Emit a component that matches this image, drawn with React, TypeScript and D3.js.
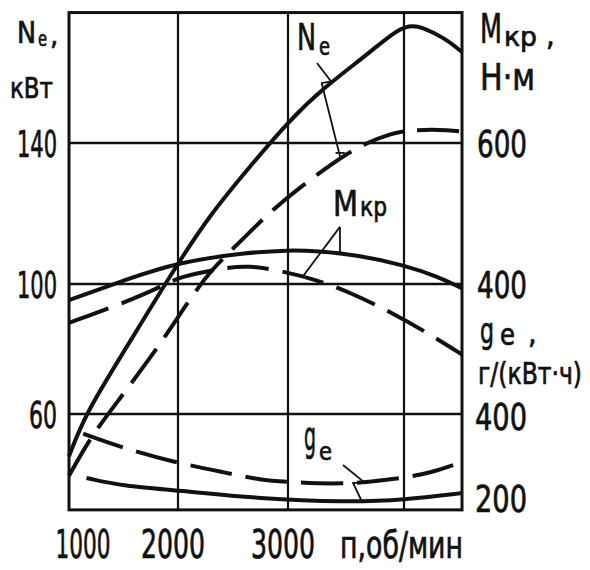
import React from 'react';
import * as d3 from 'd3';

// engine speed n, rpm, and the curves
const rpmNeSolid = [1000, 1150, 1500, 2000, 2300, 2650, 3000, 3300, 3700, 3900, 4050, 4150, 4350, 4500];
const neSolid = [47, 60, 79, 106, 120, 133.2, 146, 155.5, 165.5, 171.2, 173.5, 173, 169.8, 165.8];

const rpmNeDashed = [1000, 1200, 1450, 1850, 2100, 2300, 2550, 2900, 3350, 3600, 3900, 4100, 4400, 4500];
const neDashed = [41, 53, 64, 82, 95, 104, 111.5, 122.5, 133.5, 139, 143, 143.8, 143.7, 143.2];

const rpmMkrSolid = [1000, 1500, 2000, 2650, 3000, 3250, 3600, 4000, 4300, 4500];
const mkrSolid = [377, 405, 431, 445, 448, 447, 441, 427, 410, 394];

const rpmMkrDashed = [1000, 1400, 1850, 2000, 2450, 2650, 2900, 3250, 3550, 3900, 4200, 4500];
const mkrDashed = [345, 367, 396, 410, 424, 425.5, 420, 406, 387, 359, 331, 300];

const rpmGeDashed = [1130, 1500, 1950, 2450, 2750, 3000, 3400, 3700, 4000, 4250, 4500];
const geDashed = [352, 317, 283, 256, 239, 234, 229, 234, 244, 258, 283];

const rpmGeSolid = [1160, 1500, 2000, 2750, 3500, 4000, 4500];
const geSolid = [244, 224, 214, 193, 185, 190, 207];

// axis ticks
const rpmTicks = [1000, 2000, 3000];
const rpmGrid = [2000, 3000, 4000];
const neTicks = [60, 100, 140];
const mkrTicks = [400, 600];
const geTicks = [200, 400];

const RPM_MIN = 1000, RPM_MAX = 4500;
const NE_MIN = 30.5, NE_MAX = 177;

const FONT = '"DejaVu Sans Condensed", "Liberation Sans Narrow", "DejaVu Sans", sans-serif';
const INK = '#111';

// the scanned grid is not quite even, so the scales are piecewise
const x = d3.scaleLinear().domain([1000, 2000, 3000, 4000]).range([69, 178, 288, 404]);
const yNe = d3.scaleLinear().domain([60, 100, 140]).range([414, 284, 143]);
const yMkr = d3.scaleLinear().domain([400, 600]).range([284, 143]);
const yGe = d3.scaleLinear().domain([200, 400]).range([496, 414]);

const zip = (a: number[], b: number[]) => a.map((v, i) => [v, b[i]] as [number, number]);

const makeLine = (y: d3.ScaleLinear<number, number>) =>
  d3.line<[number, number]>()
    .x((d) => x(d[0]))
    .y((d) => y(d[1]))
    .curve(d3.curveBasis);

const leader = (pts: [number, number][], y: d3.ScaleLinear<number, number>) =>
  d3.line<[number, number]>().x((d) => x(d[0])).y((d) => y(d[1]))(pts) || '';

const T = ({ x, y, s, len, children }: any) => (
  <text x={x} y={y} fontSize={s} textLength={len} lengthAdjust="spacingAndGlyphs"
    fontFamily={FONT} fill={INK} stroke={INK} strokeWidth={0.7}>{children}</text>
);

const App = () => {
  const lineNe = makeLine(yNe);
  const lineMkr = makeLine(yMkr);
  const lineGe = makeLine(yGe);

  const curves = [
    { d: lineNe(zip(rpmNeSolid, neSolid)), dash: false },
    { d: lineNe(zip(rpmNeDashed, neDashed)), dash: true },
    { d: lineMkr(zip(rpmMkrSolid, mkrSolid)), dash: false },
    { d: lineMkr(zip(rpmMkrDashed, mkrDashed)), dash: true },
    { d: lineGe(zip(rpmGeSolid, geSolid)), dash: false },
    { d: lineGe(zip(rpmGeDashed, geDashed)), dash: true },
  ];

  const x0 = x(RPM_MIN), x1 = x(RPM_MAX);
  const y0 = yNe(NE_MAX), y1 = yNe(NE_MIN);

  return (
    <svg width={590} height={570} style={{ position: 'absolute', left: 0, top: 0, background: '#fff' }}>
      {/* grid */}
      {rpmGrid.map((v) => (
        <line key={'v' + v} x1={x(v)} x2={x(v)} y1={y0} y2={y1} stroke={INK} strokeWidth={2.2} />
      ))}
      {neTicks.map((v) => (
        <line key={'h' + v} x1={x0} x2={x1} y1={yNe(v)} y2={yNe(v)} stroke={INK} strokeWidth={2.4} />
      ))}
      <rect x={x0} y={y0} width={x1 - x0} height={y1 - y0} fill="none" stroke={INK} strokeWidth={3} />

      {/* curves */}
      {curves.map((c, i) => (
        <path key={i} d={c.d || ''} fill="none" stroke={INK} strokeWidth={4}
          strokeDasharray={c.dash ? '42 14' : undefined} strokeLinecap="butt" />
      ))}

      {/* leaders */}
      <g fill="none" stroke={INK} strokeWidth={1.8} strokeLinejoin="round">
        <path d={leader([[3250, 162.7], [3370, 157.5], [3290, 157], [3450, 136]], yNe)} />
        <path d={leader([[3410, 137.2], [3490, 137.2]], yNe)} />
        <path d={leader([[3448, 481], [3448, 444]], yMkr)} />
        <path d={leader([[3448, 481], [3129, 411]], yMkr)} />
        <path d={leader([[3474, 275.6], [3664, 232], [3560, 232], [3638, 186]], yGe)} />
      </g>

      {/* curve labels */}
      <T x={297} y={50} s={38} len={19}>N</T>
      <T x={319} y={55} s={24} len={11}>e</T>
      <T x={333} y={216} s={36} len={25}>M</T>
      <T x={360} y={216} s={27} len={27}>кр</T>
      <T x={304} y={450} s={40} len={12}>g</T>
      <T x={319} y={460} s={24} len={13}>e</T>

      {/* left axis */}
      <T x={17} y={43} s={30} len={19}>N</T>
      <T x={38} y={46} s={22} len={9}>e</T>
      <T x={50} y={45} s={29}>,</T>
      <T x={10} y={98} s={29} len={43}>кВт</T>
      {neTicks.map((v) => {
        const len = v >= 100 ? 40 : 28;
        return <T key={v} x={57 - len} y={yNe(v) + 14} s={37} len={len}>{v}</T>;
      })}

      {/* right axis: torque */}
      <T x={480} y={43} s={40} len={22}>M</T>
      <T x={504} y={46} s={27} len={33}>кр</T>
      <T x={546} y={45} s={30}>,</T>
      <T x={480} y={90} s={38} len={55}>Н·м</T>
      {mkrTicks.map((v) => (
        <T key={v} x={477} y={yMkr(v) + 14} s={37} len={50}>{v}</T>
      ))}

      {/* right axis: specific fuel consumption */}
      <T x={480} y={343} s={36} len={14}>g</T>
      <T x={500} y={345} s={30} len={15}>e</T>
      <T x={528} y={343} s={30}>,</T>
      <T x={478} y={384} s={30} len={104}>г/(кВт·ч)</T>
      {geTicks.map((v) => (
        <T key={v} x={475} y={yGe(v) + 16} s={37} len={52}>{v}</T>
      ))}

      {/* bottom axis */}
      {rpmTicks.map((v) => {
        const len = v === 1000 ? 55 : 64;
        const cx = Math.max(x(v) - 5, x0 + 14);
        return <T key={v} x={cx - len / 2} y={558} s={39} len={len}>{v}</T>;
      })}
      <T x={340} y={558} s={37} len={123}>п,об/мин</T>
    </svg>
  );
};

export default App;
